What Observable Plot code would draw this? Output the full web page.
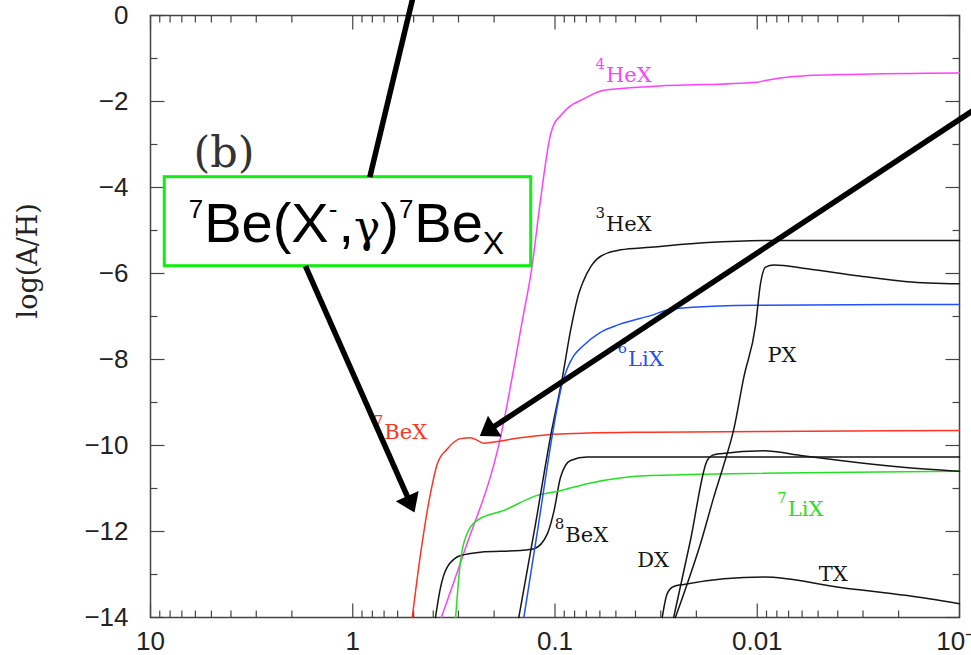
<!DOCTYPE html>
<html>
<head>
<meta charset="utf-8">
<script src="https://cdn.jsdelivr.net/npm/d3@7"></script>
<script src="https://cdn.jsdelivr.net/npm/@observablehq/plot@0.6"></script>
<style>
  body { margin: 0; background: #fff; }
  #chart svg { display: block; }
</style>
</head>
<body>
<div id="chart"></div>
<script>
// ---------- data (x: T, log scale decreasing to the right; y: log(A/H)) ----------
const T_He4 = [0.365, 0.283, 0.186, 0.145, 0.130, 0.118, 0.105, 0.101, 0.0939, 0.0854, 0.0721, 0.0574, 0.0337, 0.0100, 0.0091, 0.00662, 0.00346, 0.001];
const A_He4 = [-14.0, -12.51, -9.81, -7.09, -5.85, -4.30, -2.75, -2.52, -2.33, -2.13, -1.94, -1.74, -1.65, -1.55, -1.51, -1.42, -1.37, -1.34];

const T_Be7 = [0.508, 0.462, 0.413, 0.382, 0.341, 0.293, 0.262, 0.242, 0.225, 0.201, 0.148, 0.101, 0.0693, 0.0337, 0.001];
const A_Be7 = [-14.0, -12.52, -11.12, -10.43, -10.08, -9.84, -9.82, -9.88, -9.95, -9.92, -9.82, -9.74, -9.71, -9.69, -9.65];

const T_Be8 = [0.390, 0.368, 0.341, 0.293, 0.234, 0.148, 0.127, 0.109, 0.101, 0.0939, 0.0838, 0.0693, 0.0337, 0.001];
const A_Be8 = [-14.0, -13.30, -12.83, -12.56, -12.48, -12.44, -12.40, -12.05, -11.51, -10.74, -10.35, -10.27, -10.27, -10.27];

const T_Li7 = [0.310, 0.293, 0.272, 0.242, 0.179, 0.1225, 0.0939, 0.0693, 0.0337, 0.001];
const A_Li7 = [-14.0, -12.67, -12.05, -11.74, -11.51, -11.16, -11.05, -10.89, -10.70, -10.60];

const T_He3 = [0.151, 0.125, 0.105, 0.0921, 0.0838, 0.0763, 0.0721, 0.0668, 0.0619, 0.0532, 0.0474, 0.0337, 0.0176, 0.0083, 0.001];
const A_He3 = [-14.0, -11.84, -9.77, -8.44, -7.33, -6.47, -6.16, -5.85, -5.66, -5.50, -5.45, -5.39, -5.28, -5.23, -5.23];

const T_Li6 = [0.1426, 0.1220, 0.1032, 0.0957, 0.0921, 0.0870, 0.0807, 0.0721, 0.0596, 0.0484, 0.0337, 0.0260, 0.0100, 0.001];
const A_Li6 = [-14.0, -11.98, -9.77, -8.91, -8.56, -8.21, -7.91, -7.67, -7.37, -7.19, -6.98, -6.82, -6.74, -6.72];

const T_P = [0.0254, 0.0222, 0.0191, 0.0164, 0.0146, 0.0131, 0.01165, 0.0102, 0.00964, 0.0091, 0.00828, 0.00566, 0.0032, 0.00181, 0.001];
const A_P = [-14.0, -13.22, -12.29, -11.20, -10.43, -9.65, -8.41, -7.21, -6.24, -5.85, -5.80, -5.89, -6.05, -6.19, -6.24];

const T_D = [0.0259, 0.0214, 0.0177, 0.0167, 0.0152, 0.00928, 0.00611, 0.00388, 0.00196, 0.001];
const A_D = [-14.0, -12.21, -10.35, -10.23, -10.19, -10.12, -10.23, -10.35, -10.50, -10.60];

const T_T = [0.0295, 0.0279, 0.0259, 0.0231, 0.00928, 0.00388, 0.00181, 0.001];
const A_T = [-14.0, -13.45, -13.28, -13.23, -13.06, -13.30, -13.49, -13.68];

// curve labels
const labelText = ["⁴HeX", "³HeX", "⁶LiX", "PX", "⁷BeX", "⁸BeX", "DX", "⁷LiX", "TX"];
const labelT = [0.0631, 0.0631, 0.0491, 0.00890, 0.787, 0.1002, 0.0392, 0.00796, 0.00496];
const labelA = [-1.55, -5.00, -8.14, -8.06, -9.84, -12.25, -12.83, -11.63, -13.14];

// axis ticks
const xMajor = [10, 1, 0.1, 0.01, 0.001];
const xMajorText = ["10", "1", "0.1", "0.01", "10⁻³"];
const xMinor = [1, 0.1, 0.01, 0.001].flatMap(p => [2, 3, 4, 5, 6, 7, 8, 9].map(m => m * p));
const yMajor = [-14, -12, -10, -8, -6, -4, -2, 0];
const yMinor = [-13, -11, -9, -7, -5, -3, -1];

// annotations (data coordinates)
const panelText = "(b)";
const panelT = 6.13, panelA = -3.53;
const boxText = "⁷Be(X⁻,γ)⁷Beₓ";
const boxT1 = 8.50, boxT2 = 0.1311, boxA1 = -3.76, boxA2 = -5.83;
const boxTextT = 6.47, boxTextA = -5.27;
const arrowT1 = [0.4946, 1.713, 0.000787];
const arrowA1 = [0.58, -5.83, -2.095];
const arrowT2 = [0.8234, 0.4951, 0.2354];
const arrowA2 = [-3.76, -11.56, -9.78];
const arrowHasHead = [false, true, true];

// ---------- styles ----------
const MAG = "#ff40ff", RED = "#ff3322", BLUE = "#2050ff", GREEN = "#22e022", BLK = "#151515";
const series = [
  [T_He4, A_He4, MAG], [T_Be7, A_Be7, RED], [T_Be8, A_Be8, BLK], [T_Li7, A_Li7, GREEN],
  [T_He3, A_He3, BLK], [T_Li6, A_Li6, BLUE], [T_P, A_P, BLK], [T_D, A_D, BLK], [T_T, A_T, BLK]
];
const labelColor = [MAG, BLK, BLUE, BLK, RED, BLK, BLK, GREEN, BLK];

const W = 971, H = 655, mL = 150, mR = 12, mT = 15, mB = 38;
const xDomain = [10, 0.001], yDomain = [-14, 0];

// pixel helpers for arrowheads
let sx, sy;
try {
  sx = Plot.scale({x: {type: "log", domain: xDomain, range: [mL, W - mR]}});
  sy = Plot.scale({y: {type: "linear", domain: yDomain, range: [H - mB, mT]}});
} catch (e) {
  const lx = d3.scaleLog().domain(xDomain).range([mL, W - mR]);
  const ly = d3.scaleLinear().domain(yDomain).range([H - mB, mT]);
  sx = {apply: lx, invert: lx.invert};
  sy = {apply: ly, invert: ly.invert};
}
const arrows = arrowT1.map((t, i) => {
  const x1 = sx.apply(t), y1 = sy.apply(arrowA1[i]);
  const x2 = sx.apply(arrowT2[i]), y2 = sy.apply(arrowA2[i]);
  const dx = x2 - x1, dy = y2 - y1, len = Math.hypot(dx, dy);
  const ux = dx / len, uy = dy / len;
  const back = arrowHasHead[i] ? 10 : 0;
  return {
    T1: t, A1: arrowA1[i],
    T2: sx.invert(x2 - ux * back), A2: sy.invert(y2 - uy * back),
    tipT: arrowT2[i], tipA: arrowA2[i],
    head: arrowHasHead[i],
    angle: Math.atan2(-ux, uy) * 180 / Math.PI
  };
});

const spike = {draw(ctx, size) { const l = Math.sqrt(size / Math.PI); ctx.moveTo(0, 0); ctx.lineTo(0, -l); }};
const headSym = {draw(ctx) { ctx.moveTo(0, 0); ctx.lineTo(-12.5, -18); ctx.lineTo(12.5, -18); ctx.closePath(); }};

const tickStyle = {symbol: spike, fill: "none", stroke: "#444", strokeWidth: 1.2};
const ident = d => d;

const lineMarks = series.map(([T, A, c]) =>
  Plot.line(T.map((t, i) => ({T: t, A: A[i]})), {x: "T", y: "A", stroke: c, strokeWidth: 1.5, curve: "monotone-x"})
);

const labelRows = labelText.map((t, i) => ({t, T: labelT[i], A: labelA[i], c: labelColor[i]}));

const chart = Plot.plot({
  width: W, height: H,
  marginLeft: mL, marginRight: mR, marginTop: mT, marginBottom: mB,
  style: {fontFamily: "'Liberation Sans', Arial, sans-serif", fontSize: "26px", color: "#222", background: "white"},
  x: {type: "log", domain: xDomain, ticks: xMajor, tickFormat: d => xMajorText[xMajor.indexOf(d)], tickSize: 0, tickPadding: 14, label: null},
  y: {domain: yDomain, ticks: yMajor, tickFormat: d => d === 0 ? "0" : "\u2212" + Math.abs(d), tickSize: 0, tickPadding: 22, label: null},
  color: {type: "identity"},
  marks: [
    Plot.frame({stroke: "#444", strokeWidth: 1.5}),
    // inward ticks
    Plot.dot(xMajor, {x: ident, y: -14, r: 14, rotate: 0, ...tickStyle}),
    Plot.dot(xMinor, {x: ident, y: -14, r: 7, rotate: 0, ...tickStyle}),
    Plot.dot(xMajor, {x: ident, y: 0, r: 14, rotate: 180, ...tickStyle}),
    Plot.dot(xMinor, {x: ident, y: 0, r: 7, rotate: 180, ...tickStyle}),
    Plot.dot(yMajor, {x: 10, y: ident, r: 14, rotate: 90, ...tickStyle}),
    Plot.dot(yMinor, {x: 10, y: ident, r: 7, rotate: 90, ...tickStyle}),
    Plot.dot(yMajor, {x: 0.001, y: ident, r: 14, rotate: -90, ...tickStyle}),
    Plot.dot(yMinor, {x: 0.001, y: ident, r: 7, rotate: -90, ...tickStyle}),
    // y axis title
    Plot.text(["log(A/H)"], {frameAnchor: "left", text: ident, rotate: -90, dx: -122, dy: 2,
      fontFamily: "'DejaVu Serif', serif", fontSize: 27, fill: "#222"}),
    // curves
    ...lineMarks,
    // curve labels
    Plot.text(labelRows, {x: "T", y: "A", text: "t", fill: "c", textAnchor: "start", lineAnchor: "bottom",
      fontFamily: "'DejaVu Serif', serif", fontSize: 21, ariaDescription: "isolabels"}),
    // panel label
    Plot.text([panelText], {x: panelT, y: panelA, text: ident, textAnchor: "start", lineAnchor: "bottom",
      fontFamily: "'DejaVu Serif', serif", fontSize: 43, fill: "#333"}),
    // reaction box
    Plot.rect([0], {x1: boxT1, x2: boxT2, y1: boxA1, y2: boxA2, fill: "white", stroke: "#11ee11", strokeWidth: 3}),
    Plot.text([boxText], {x: boxTextT, y: boxTextA, text: ident, textAnchor: "start", lineAnchor: "bottom",
      fontFamily: "'Liberation Sans', Arial, sans-serif", fontSize: 56, fill: "black", ariaDescription: "boxlabel"}),
    // arrows
    Plot.link(arrows, {x1: "T1", y1: "A1", x2: "T2", y2: "A2", stroke: "black", strokeWidth: 5.5}),
    Plot.dot(arrows.filter(a => a.head), {x: "tipT", y: "tipA", r: 12, rotate: "angle", symbol: headSym, fill: "black", stroke: "none"})
  ]
});

// superscripts / subscripts / greek as tspans
const SUPMAP = {"⁰": "0", "¹": "1", "²": "2", "³": "3", "⁴": "4", "⁵": "5", "⁶": "6", "⁷": "7", "⁸": "8", "⁹": "9", "⁻": "-"};
const SUBMAP = {"ₓ": "X"};
const GREEK = new Set(["γ"]);
function rich(root, desc, o) {
  root.querySelectorAll(`g[aria-description="${desc}"] text`).forEach(el => {
    const s = el.textContent, runs = [];
    for (const ch of s) {
      const kind = ch in SUPMAP ? "sup" : ch in SUBMAP ? "sub" : GREEK.has(ch) ? "greek" : "base";
      const c = kind === "sup" ? SUPMAP[ch] : kind === "sub" ? SUBMAP[ch] : ch;
      if (runs.length && runs[runs.length - 1].kind === kind) runs[runs.length - 1].text += c;
      else runs.push({kind, text: c});
    }
    while (el.firstChild) el.removeChild(el.firstChild);
    let cur = 0;
    runs.forEach((r, i) => {
      const ts = document.createElementNS("http://www.w3.org/2000/svg", "tspan");
      const off = r.kind === "sup" ? -o.rise : r.kind === "sub" ? o.drop : 0;
      ts.setAttribute("dy", off - cur); cur = off;
      if (r.kind === "sup") ts.setAttribute("font-size", o.supSize);
      if (r.kind === "sub") ts.setAttribute("font-size", o.subSize);
      if (r.kind === "greek" && o.greekFont) { ts.setAttribute("font-family", o.greekFont); ts.setAttribute("font-size", o.greekSize); }
      if (i > 0 && runs[i - 1].kind === "sup" && o.gap) ts.setAttribute("dx", o.gap);
      ts.textContent = r.text;
      el.appendChild(ts);
    });
  });
}
rich(chart, "isolabels", {supSize: 15, rise: 13, gap: 1});
rich(chart, "boxlabel", {supSize: 26, rise: 24, subSize: 32, drop: 12, gap: 1, greekFont: "'DejaVu Serif', serif", greekSize: 44});

document.getElementById("chart").append(chart);
</script>
</body>
</html>
